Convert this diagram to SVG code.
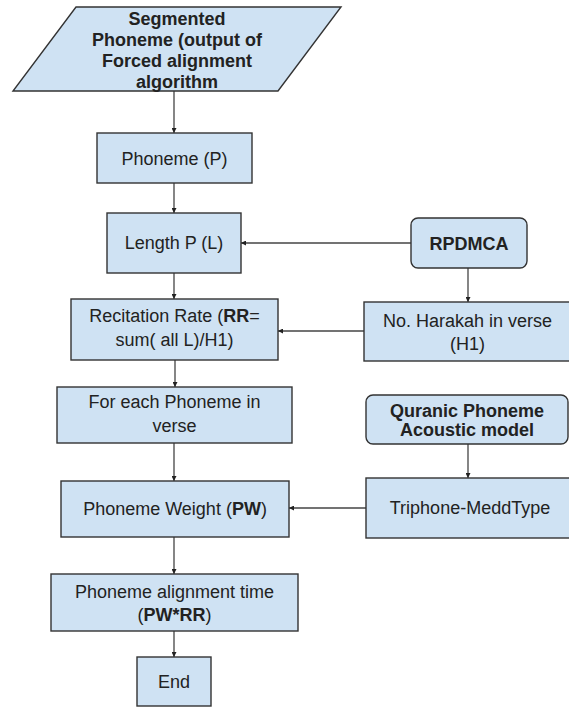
<svg xmlns="http://www.w3.org/2000/svg" width="569" height="707" viewBox="0 0 569 707">
<style>
.box{fill:#cfe2f3;stroke:#333;stroke-width:1.4}
.t{font-family:"Liberation Sans",Arial,sans-serif;font-size:18px;fill:#222;text-anchor:middle}
.b{font-weight:bold}
.c{stroke:#444;stroke-width:1.3;fill:none;marker-end:url(#ah)}
</style>
<defs>
<marker id="ah" viewBox="0 0 10 10" refX="10" refY="5" markerWidth="5" markerHeight="5" orient="auto" markerUnits="userSpaceOnUse">
<path d="M0,0 L10,5 L0,10 z" fill="#222"/>
</marker>
</defs>
<rect width="569" height="707" fill="#fff"/>
<g id="connectors">
<line class="c" x1="174" y1="91" x2="174" y2="133"/>
<line class="c" x1="174" y1="183" x2="174" y2="213"/>
<line class="c" x1="174" y1="273" x2="174" y2="299"/>
<line class="c" x1="175" y1="360" x2="175" y2="387"/>
<line class="c" x1="174" y1="443" x2="174" y2="481"/>
<line class="c" x1="174" y1="537" x2="174" y2="574"/>
<line class="c" x1="174" y1="631" x2="174" y2="657"/>
<line class="c" x1="411" y1="243" x2="241" y2="243"/>
<line class="c" x1="468" y1="268" x2="468" y2="302"/>
<line class="c" x1="364" y1="331" x2="278" y2="331"/>
<line class="c" x1="468" y1="444" x2="468" y2="478"/>
<line class="c" x1="366" y1="508" x2="289" y2="508"/>
</g>
<g id="segmented">
<polygon class="box" points="76,7 341,7 278,91 13,91"/>
<text class="t b" x="177" y="25">Segmented</text>
<text class="t b" x="177" y="46">Phoneme (output of</text>
<text class="t b" x="177" y="67">Forced alignment</text>
<text class="t b" x="177" y="88">algorithm</text>
</g>
<g id="phoneme">
<rect class="box" x="97" y="133" width="155" height="50"/>
<text class="t" x="174.5" y="165">Phoneme (P)</text>
</g>
<g id="length">
<rect class="box" x="107" y="213" width="134" height="60"/>
<text class="t" x="174" y="249">Length P (L)</text>
</g>
<g id="rpdmca">
<rect class="box" x="411" y="218" width="116" height="50" rx="7"/>
<text class="t b" x="469" y="250">RPDMCA</text>
</g>
<g id="rate">
<rect class="box" x="71" y="299" width="207" height="61"/>
<text class="t" x="174.5" y="322">Recitation Rate (<tspan class="b">RR</tspan>=</text>
<text class="t" x="174.5" y="346">sum( all L)/H1)</text>
</g>
<g id="harakah">
<rect class="box" x="364" y="302" width="210" height="59"/>
<text class="t" x="467.5" y="327">No. Harakah in verse</text>
<text class="t" x="467.5" y="350">(H1)</text>
</g>
<g id="foreach">
<rect class="box" x="57" y="387" width="235" height="56"/>
<text class="t" x="174.5" y="408">For each Phoneme in</text>
<text class="t" x="174.5" y="432">verse</text>
</g>
<g id="quranic">
<rect class="box" x="366" y="395" width="202" height="49" rx="7"/>
<text class="t b" x="467" y="417">Quranic Phoneme</text>
<text class="t b" x="467" y="436">Acoustic model</text>
</g>
<g id="weight">
<rect class="box" x="61" y="481" width="228" height="56"/>
<text class="t" x="175" y="515">Phoneme Weight (<tspan class="b">PW</tspan>)</text>
</g>
<g id="triphone">
<rect class="box" x="366" y="478" width="208" height="60"/>
<text class="t" x="470" y="514">Triphone-MeddType</text>
</g>
<g id="alignment">
<rect class="box" x="51" y="574" width="247" height="57"/>
<text class="t" x="174.5" y="598">Phoneme alignment time</text>
<text class="t" x="174.5" y="621">(<tspan class="b">PW*RR</tspan>)</text>
</g>
<g id="end">
<rect class="box" x="137" y="657" width="74" height="49"/>
<text class="t" x="174" y="688">End</text>
</g>
</svg>
